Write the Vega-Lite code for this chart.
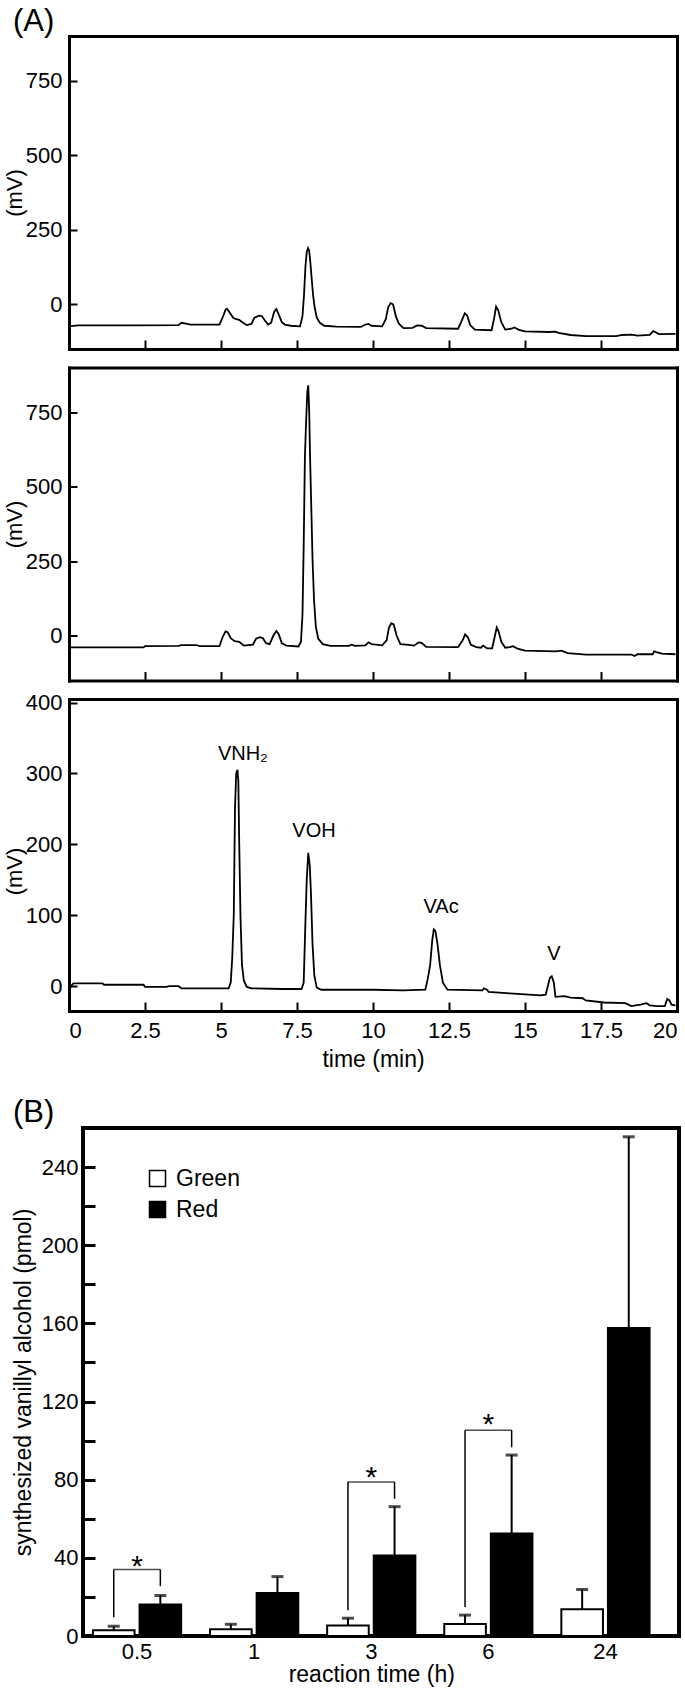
{
  "padding": {"left": 3, "top": 6, "right": 0, "bottom": 0},
  "bounds": "flush",
  "spacing": 18.5,
  "datasets": {
    "p1": [
      {"t":0.05,"mv":-73},{"t":0.3,"mv":-71},{"t":1.0,"mv":-71},{"t":2.0,"mv":-71},{"t":3.6,"mv":-70},{"t":3.7,"mv":-62},{"t":3.85,"mv":-65},{"t":4.0,"mv":-68},{"t":4.95,"mv":-68},{"t":5.05,"mv":-45},{"t":5.15,"mv":-18},{"t":5.2,"mv":-15},{"t":5.3,"mv":-30},{"t":5.4,"mv":-45},{"t":5.5,"mv":-50},{"t":5.6,"mv":-52},{"t":5.7,"mv":-60},{"t":5.85,"mv":-70},{"t":6.0,"mv":-66},{"t":6.1,"mv":-45},{"t":6.25,"mv":-38},{"t":6.35,"mv":-40},{"t":6.45,"mv":-55},{"t":6.55,"mv":-68},{"t":6.65,"mv":-62},{"t":6.75,"mv":-25},{"t":6.82,"mv":-16},{"t":6.9,"mv":-35},{"t":7.0,"mv":-60},{"t":7.1,"mv":-68},{"t":7.3,"mv":-72},{"t":7.6,"mv":-74},{"t":7.68,"mv":-40},{"t":7.73,"mv":30},{"t":7.78,"mv":130},{"t":7.82,"mv":175},{"t":7.86,"mv":188},{"t":7.9,"mv":180},{"t":7.94,"mv":140},{"t":7.98,"mv":90},{"t":8.03,"mv":30},{"t":8.08,"mv":-10},{"t":8.15,"mv":-45},{"t":8.25,"mv":-62},{"t":8.4,"mv":-72},{"t":8.8,"mv":-75},{"t":9.6,"mv":-76},{"t":9.75,"mv":-68},{"t":9.85,"mv":-66},{"t":9.95,"mv":-72},{"t":10.3,"mv":-74},{"t":10.42,"mv":-50},{"t":10.5,"mv":-10},{"t":10.58,"mv":4},{"t":10.66,"mv":0},{"t":10.75,"mv":-40},{"t":10.85,"mv":-65},{"t":11.0,"mv":-80},{"t":11.3,"mv":-79},{"t":11.45,"mv":-71},{"t":11.6,"mv":-72},{"t":11.75,"mv":-80},{"t":12.8,"mv":-82},{"t":12.92,"mv":-55},{"t":13.02,"mv":-30},{"t":13.1,"mv":-38},{"t":13.2,"mv":-70},{"t":13.35,"mv":-85},{"t":13.9,"mv":-87},{"t":13.98,"mv":-50},{"t":14.05,"mv":-8},{"t":14.12,"mv":-20},{"t":14.22,"mv":-60},{"t":14.35,"mv":-85},{"t":14.55,"mv":-82},{"t":14.65,"mv":-78},{"t":14.8,"mv":-86},{"t":15.0,"mv":-91},{"t":15.8,"mv":-93},{"t":16.0,"mv":-92},{"t":16.1,"mv":-96},{"t":16.5,"mv":-103},{"t":17.0,"mv":-107},{"t":18.0,"mv":-107},{"t":18.2,"mv":-103},{"t":18.5,"mv":-102},{"t":18.7,"mv":-105},{"t":19.1,"mv":-103},{"t":19.22,"mv":-90},{"t":19.3,"mv":-94},{"t":19.4,"mv":-100},{"t":19.95,"mv":-99}
    ],
    "p2": [
      {"t":0.05,"mv":-39},{"t":2.45,"mv":-39},{"t":2.5,"mv":-35},{"t":3.6,"mv":-34},{"t":3.7,"mv":-31},{"t":4.2,"mv":-31},{"t":4.3,"mv":-35},{"t":4.95,"mv":-35},{"t":5.05,"mv":-5},{"t":5.15,"mv":15},{"t":5.22,"mv":12},{"t":5.32,"mv":-8},{"t":5.45,"mv":-18},{"t":5.6,"mv":-20},{"t":5.75,"mv":-33},{"t":6.05,"mv":-30},{"t":6.15,"mv":-10},{"t":6.28,"mv":-5},{"t":6.38,"mv":-8},{"t":6.48,"mv":-25},{"t":6.6,"mv":-28},{"t":6.72,"mv":0},{"t":6.82,"mv":16},{"t":6.9,"mv":5},{"t":7.0,"mv":-25},{"t":7.15,"mv":-33},{"t":7.55,"mv":-36},{"t":7.63,"mv":-20},{"t":7.68,"mv":70},{"t":7.72,"mv":300},{"t":7.76,"mv":600},{"t":7.8,"mv":720},{"t":7.84,"mv":820},{"t":7.87,"mv":840},{"t":7.9,"mv":760},{"t":7.93,"mv":600},{"t":7.97,"mv":430},{"t":8.01,"mv":260},{"t":8.06,"mv":120},{"t":8.12,"mv":30},{"t":8.2,"mv":-10},{"t":8.35,"mv":-28},{"t":8.6,"mv":-34},{"t":9.2,"mv":-34},{"t":9.3,"mv":-30},{"t":9.4,"mv":-34},{"t":9.75,"mv":-32},{"t":9.85,"mv":-22},{"t":9.95,"mv":-28},{"t":10.3,"mv":-32},{"t":10.45,"mv":-15},{"t":10.52,"mv":25},{"t":10.6,"mv":42},{"t":10.68,"mv":38},{"t":10.78,"mv":0},{"t":10.9,"mv":-28},{"t":11.1,"mv":-30},{"t":11.35,"mv":-33},{"t":11.5,"mv":-22},{"t":11.6,"mv":-24},{"t":11.75,"mv":-37},{"t":12.8,"mv":-38},{"t":12.95,"mv":-15},{"t":13.03,"mv":5},{"t":13.12,"mv":-5},{"t":13.22,"mv":-30},{"t":13.4,"mv":-38},{"t":13.55,"mv":-40},{"t":13.62,"mv":-33},{"t":13.75,"mv":-42},{"t":13.92,"mv":-42},{"t":14.0,"mv":-5},{"t":14.07,"mv":28},{"t":14.13,"mv":15},{"t":14.22,"mv":-20},{"t":14.35,"mv":-40},{"t":14.5,"mv":-38},{"t":14.6,"mv":-35},{"t":14.75,"mv":-43},{"t":15.0,"mv":-50},{"t":16.0,"mv":-52},{"t":16.2,"mv":-50},{"t":16.4,"mv":-58},{"t":17.0,"mv":-63},{"t":18.5,"mv":-63},{"t":18.6,"mv":-68},{"t":18.7,"mv":-62},{"t":19.2,"mv":-62},{"t":19.25,"mv":-52},{"t":19.35,"mv":-56},{"t":19.5,"mv":-60},{"t":19.95,"mv":-62}
    ],
    "p3": [
      {"t":0.05,"mv":-2},{"t":0.1,"mv":2},{"t":0.15,"mv":4},{"t":1.1,"mv":4},{"t":1.15,"mv":2},{"t":2.45,"mv":2},{"t":2.5,"mv":-1},{"t":3.2,"mv":-1},{"t":3.3,"mv":0},{"t":3.6,"mv":0},{"t":3.7,"mv":-3},{"t":5.25,"mv":-3},{"t":5.32,"mv":5},{"t":5.37,"mv":40},{"t":5.42,"mv":100},{"t":5.46,"mv":250},{"t":5.5,"mv":300},{"t":5.54,"mv":305},{"t":5.57,"mv":290},{"t":5.6,"mv":200},{"t":5.64,"mv":100},{"t":5.69,"mv":30},{"t":5.75,"mv":8},{"t":5.85,"mv":-1},{"t":6.0,"mv":-3},{"t":7.0,"mv":-4},{"t":7.65,"mv":-4},{"t":7.72,"mv":5},{"t":7.77,"mv":80},{"t":7.82,"mv":150},{"t":7.87,"mv":188},{"t":7.92,"mv":170},{"t":7.96,"mv":130},{"t":8.01,"mv":60},{"t":8.07,"mv":15},{"t":8.15,"mv":-2},{"t":8.3,"mv":-5},{"t":10.0,"mv":-5},{"t":11.0,"mv":-6},{"t":11.72,"mv":-5},{"t":11.8,"mv":10},{"t":11.88,"mv":30},{"t":11.95,"mv":65},{"t":12.0,"mv":80},{"t":12.05,"mv":78},{"t":12.12,"mv":60},{"t":12.2,"mv":30},{"t":12.3,"mv":5},{"t":12.45,"mv":-5},{"t":13.6,"mv":-6},{"t":13.65,"mv":-3},{"t":13.75,"mv":-5},{"t":13.8,"mv":-8},{"t":14.5,"mv":-10},{"t":15.5,"mv":-13},{"t":15.68,"mv":-12},{"t":15.75,"mv":0},{"t":15.82,"mv":12},{"t":15.88,"mv":14},{"t":15.95,"mv":5},{"t":16.0,"mv":-15},{"t":16.3,"mv":-14},{"t":16.5,"mv":-16},{"t":16.9,"mv":-17},{"t":17.0,"mv":-20},{"t":17.6,"mv":-23},{"t":18.3,"mv":-24},{"t":18.5,"mv":-28},{"t":18.8,"mv":-26},{"t":19.0,"mv":-24},{"t":19.1,"mv":-27},{"t":19.35,"mv":-28},{"t":19.6,"mv":-28},{"t":19.68,"mv":-18},{"t":19.75,"mv":-20},{"t":19.82,"mv":-26},{"t":19.95,"mv":-27}
    ],
    "lab3": [
      {"t":5.72,"mv":328,"text":"VNH₂"},{"t":8.06,"mv":219,"text":"VOH"},{"t":12.24,"mv":111,"text":"VAc"},{"t":15.95,"mv":46,"text":"V"}
    ],
    "bars": [
      {"time":"0.5","series":"Green","value":2.9,"err":5.0},{"time":"0.5","series":"Red","value":16.1,"err":20.7},
      {"time":"1","series":"Green","value":3.5,"err":6.0},{"time":"1","series":"Red","value":22.0,"err":30.4},
      {"time":"3","series":"Green","value":5.4,"err":9.1},{"time":"3","series":"Red","value":41.2,"err":66.2},
      {"time":"6","series":"Green","value":6.2,"err":10.7},{"time":"6","series":"Red","value":52.4,"err":92.6},
      {"time":"24","series":"Green","value":13.7,"err":23.8},{"time":"24","series":"Red","value":157.7,"err":255.5}
    ],
    "brk": [
      {"time":"0.5","series":"Green","y1":9.6,"y2":34},{"time":"0.5","series":"Red","y1":25.5,"y2":34},
      {"time":"3","series":"Green","y1":13.2,"y2":78.8},{"time":"3","series":"Red","y1":70.2,"y2":78.8},
      {"time":"6","series":"Green","y1":14.8,"y2":105.3},{"time":"6","series":"Red","y1":96.6,"y2":105.3}
    ],
    "brh": [
      {"time":"0.5","y":34},{"time":"3","y":78.8},{"time":"6","y":105.3}
    ],
    "stars": [
      {"time":"0.5","y":39.5,"s":"*"},{"time":"3","y":84.8,"s":"*"},{"time":"6","y":112,"s":"*"}
    ]
  },
  "vconcat": [
    {
      "width": 594, "height": 313,
      "view": {"stroke": null},
      "title": {"text": "(A)", "anchor": "start", "frame": "group", "fontSize": 31, "dx": -70, "offset": -26, "baseline": "alphabetic"},
      "data": {"name": "p1"},
      "layer": [
        {"mark": {"type": "line", "color": "black", "strokeWidth": 1.8},
         "encoding": {
           "x": {"field": "t", "type": "quantitative", "scale": {"domain": [0, 20], "range": [-14, 594], "nice": false, "zero": false},
                 "axis": {"orient": "bottom", "values": [2.5,5,7.5,10,12.5,15,17.5], "labels": false, "tickSize": -9, "tickWidth": 2, "domainWidth": 3, "domainCap": "square", "title": null}},
           "y": {"field": "mv", "type": "quantitative", "scale": {"domain": [-150, 900], "nice": false, "zero": false},
                 "axis": {"orient": "left", "offset": 14, "values": [0,250,500,750], "format": "d", "tickSize": -8, "tickWidth": 2, "labelPadding": 15, "labelFontSize": 22, "domainWidth": 3, "domainCap": "square", "title": "(mV)", "titleFontSize": 22, "titleX": -55, "titleBaseline": "middle"}}
         }},
        {"mark": {"type": "line", "opacity": 0},
         "encoding": {
           "x": {"field": "t", "type": "quantitative", "axis": {"orient": "top", "ticks": false, "labels": false, "domainWidth": 3, "domainCap": "square", "title": null}},
           "y": {"field": "mv", "type": "quantitative", "axis": {"orient": "right", "ticks": false, "labels": false, "domainWidth": 3, "domainCap": "square", "title": null}}
         }}
      ],
      "resolve": {"axis": {"x": "independent", "y": "independent"}}
    },
    {
      "width": 594, "height": 313,
      "view": {"stroke": null},
      "data": {"name": "p2"},
      "layer": [
        {"mark": {"type": "line", "color": "black", "strokeWidth": 1.8},
         "encoding": {
           "x": {"field": "t", "type": "quantitative", "scale": {"domain": [0, 20], "range": [-14, 594], "nice": false, "zero": false},
                 "axis": {"orient": "bottom", "values": [2.5,5,7.5,10,12.5,15,17.5], "labels": false, "tickSize": -9, "tickWidth": 2, "domainWidth": 3, "domainCap": "square", "title": null}},
           "y": {"field": "mv", "type": "quantitative", "scale": {"domain": [-150, 900], "nice": false, "zero": false},
                 "axis": {"orient": "left", "offset": 14, "values": [0,250,500,750], "format": "d", "tickSize": -8, "tickWidth": 2, "labelPadding": 15, "labelFontSize": 22, "domainWidth": 3, "domainCap": "square", "title": "(mV)", "titleFontSize": 22, "titleX": -55, "titleBaseline": "middle"}}
         }},
        {"mark": {"type": "line", "opacity": 0},
         "encoding": {
           "x": {"field": "t", "type": "quantitative", "axis": {"orient": "top", "ticks": false, "labels": false, "domainWidth": 3, "domainCap": "square", "title": null}},
           "y": {"field": "mv", "type": "quantitative", "axis": {"orient": "right", "ticks": false, "labels": false, "domainWidth": 3, "domainCap": "square", "title": null}}
         }}
      ],
      "resolve": {"axis": {"x": "independent", "y": "independent"}}
    },
    {
      "width": 594, "height": 312,
      "view": {"stroke": null},
      "layer": [
        {"data": {"name": "p3"},
         "mark": {"type": "line", "color": "black", "strokeWidth": 1.8},
         "encoding": {
           "x": {"field": "t", "type": "quantitative", "scale": {"domain": [0, 20], "range": [-14, 594], "nice": false, "zero": false},
                 "axis": {"orient": "bottom", "values": [0,2.5,5,7.5,10,12.5,15,17.5,20], "format": ".1~f", "labelFlush": true, "labelFontSize": 22, "labelPadding": 18, "tickSize": -9, "tickWidth": 2, "domainWidth": 3, "domainCap": "square", "title": "time (min)", "titleFontSize": 23, "titleY": 48, "titleBaseline": "middle"}},
           "y": {"field": "mv", "type": "quantitative", "scale": {"domain": [-35, 405], "nice": false, "zero": false},
                 "axis": {"orient": "left", "offset": 14, "values": [0,100,200,300,400], "format": "d", "tickSize": -8, "tickWidth": 2, "labelPadding": 15, "labelFontSize": 22, "domainWidth": 3, "domainCap": "square", "title": "(mV)", "titleFontSize": 22, "titleX": -55, "titleY": 172, "titleBaseline": "middle"}}
         }},
        {"data": {"name": "p3"},
         "mark": {"type": "line", "opacity": 0},
         "encoding": {
           "x": {"field": "t", "type": "quantitative", "axis": {"orient": "top", "ticks": false, "labels": false, "domainWidth": 3, "domainCap": "square", "title": null}},
           "y": {"field": "mv", "type": "quantitative", "axis": {"orient": "right", "ticks": false, "labels": false, "domainWidth": 3, "domainCap": "square", "title": null}}
         }},
        {"data": {"name": "lab3"},
         "mark": {"type": "text", "fontSize": 20, "align": "center", "baseline": "middle", "color": "black"},
         "encoding": {
           "x": {"field": "t", "type": "quantitative", "axis": null},
           "y": {"field": "mv", "type": "quantitative", "axis": null},
           "text": {"field": "text"}
         }}
      ],
      "resolve": {"axis": {"x": "independent", "y": "independent"}}
    },
    {
      "width": 594, "height": 80,
      "view": {"stroke": null},
      "data": {"values": [{"a": 1}]},
      "mark": {"type": "point", "opacity": 0},
      "encoding": {}
    },
    {
      "width": 596, "height": 508,
      "view": {"stroke": "black", "strokeWidth": 4},
      "title": {"text": "(B)", "anchor": "start", "frame": "group", "fontSize": 31, "dx": -70, "offset": -25, "baseline": "alphabetic"},
      "layer": [
        {"data": {"name": "bars"},
         "mark": {"type": "bar", "stroke": "black", "strokeWidth": 2},
         "encoding": {
           "x": {"field": "time", "type": "nominal", "sort": ["0.5","1","3","6","24"], "title": "reaction time (h)",
                 "scale": {"range": [-4.5, 581], "paddingInner": 0, "paddingOuter": 0},
                 "axis": {"labelAngle": 0, "ticks": false, "domain": false, "labelFontSize": 22, "labelPadding": 5, "titleFontSize": 23, "titleY": 38, "titleBaseline": "middle"}},
           "xOffset": {"field": "series", "type": "nominal", "sort": ["Green","Red"], "scale": {"paddingInner": 0.107, "paddingOuter": 0.31}},
           "y": {"field": "value", "type": "quantitative", "title": "synthesized vanillyl alcohol (pmol)",
                 "scale": {"domain": [0, 260], "nice": false, "zero": true},
                 "axis": {"values": [0,20,40,60,80,100,120,140,160,180,200,220,240], "format": "d", "labelExpr": "datum.value % 40 == 0 ? datum.label : ''", "tickSize": -12, "tickWidth": 3, "domain": false, "labelPadding": 17, "labelFontSize": 22, "titleFontSize": 23, "titleX": -60, "titleBaseline": "middle"}},
           "fill": {"field": "series", "type": "nominal", "scale": {"domain": ["Green","Red"], "range": ["white","black"]},
                    "legend": {"orient": "none", "legendX": 63, "legendY": 1131, "title": null, "symbolType": "square", "symbolSize": 256, "symbolStrokeColor": "black", "symbolStrokeWidth": 1.5, "labelFontSize": 23, "labelOffset": 7, "rowPadding": 7, "padding": 0, "labelColor": "black"}}
         }},
        {"data": {"name": "bars"},
         "mark": {"type": "rule", "color": "black", "strokeWidth": 2},
         "encoding": {
           "x": {"field": "time", "type": "nominal", "sort": ["0.5","1","3","6","24"], "title": "reaction time (h)"},
           "xOffset": {"field": "series", "type": "nominal", "sort": ["Green","Red"]},
           "y": {"field": "value", "type": "quantitative", "title": "synthesized vanillyl alcohol (pmol)"},
           "y2": {"field": "err"}
         }},
        {"data": {"name": "bars"},
         "mark": {"type": "tick", "color": "black", "size": 12, "thickness": 3, "orient": "horizontal"},
         "encoding": {
           "x": {"field": "time", "type": "nominal", "sort": ["0.5","1","3","6","24"], "title": "reaction time (h)"},
           "xOffset": {"field": "series", "type": "nominal", "sort": ["Green","Red"]},
           "y": {"field": "err", "type": "quantitative", "title": "synthesized vanillyl alcohol (pmol)"}
         }},
        {"data": {"name": "brk"},
         "mark": {"type": "rule", "color": "black", "strokeWidth": 1.5},
         "encoding": {
           "x": {"field": "time", "type": "nominal", "sort": ["0.5","1","3","6","24"], "title": "reaction time (h)"},
           "xOffset": {"field": "series", "type": "nominal", "sort": ["Green","Red"]},
           "y": {"field": "y1", "type": "quantitative", "title": "synthesized vanillyl alcohol (pmol)"},
           "y2": {"field": "y2"}
         }},
        {"data": {"name": "brh"},
         "mark": {"type": "tick", "color": "black", "size": 47, "thickness": 1.5, "orient": "horizontal"},
         "encoding": {
           "x": {"field": "time", "type": "nominal", "sort": ["0.5","1","3","6","24"], "title": "reaction time (h)"},
           "y": {"field": "y", "type": "quantitative", "title": "synthesized vanillyl alcohol (pmol)"}
         }},
        {"data": {"name": "stars"},
         "mark": {"type": "text", "fontSize": 30, "baseline": "alphabetic", "align": "center", "dy": 17, "color": "black"},
         "encoding": {
           "x": {"field": "time", "type": "nominal", "sort": ["0.5","1","3","6","24"], "title": "reaction time (h)"},
           "y": {"field": "y", "type": "quantitative", "title": "synthesized vanillyl alcohol (pmol)"},
           "text": {"field": "s"}
         }}
      ]
    }
  ],
  "config": {
    "font": "Liberation Sans",
    "axis": {"labelColor": "black", "titleColor": "black", "domainColor": "black", "tickColor": "black", "grid": false, "titleFontWeight": "normal", "labelFont": "Liberation Sans", "titleFont": "Liberation Sans"},
    "legend": {"labelColor": "black", "labelFont": "Liberation Sans"},
    "title": {"color": "black", "fontWeight": "normal", "font": "Liberation Sans"}
  }
}
